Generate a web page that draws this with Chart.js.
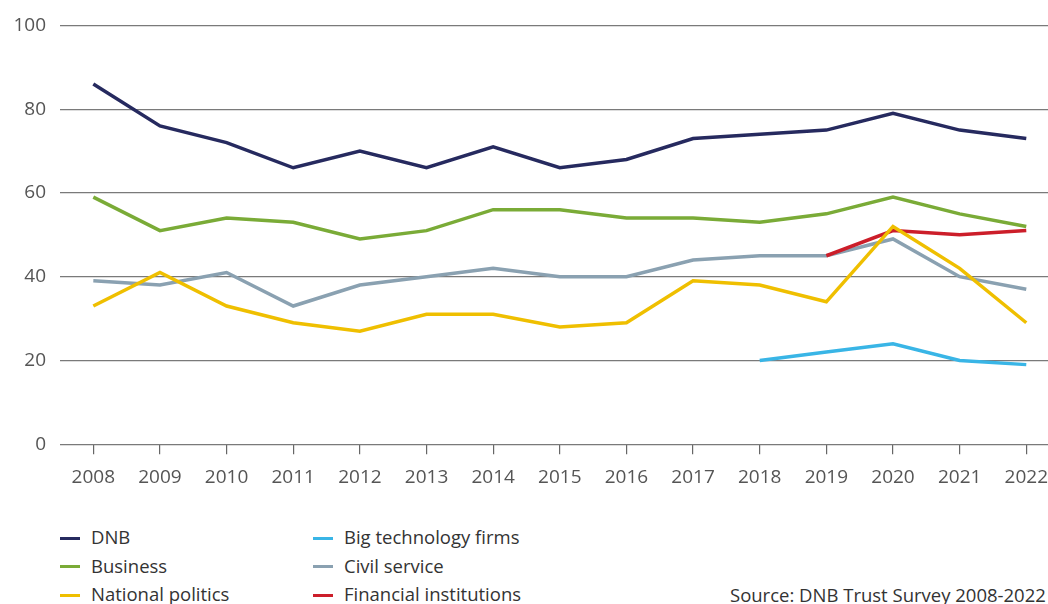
<!DOCTYPE html>
<html>
<head>
<meta charset="utf-8">
<script src="https://cdn.jsdelivr.net/npm/chart.js@4"></script>
<style>
  html, body { margin: 0; padding: 0; background: #fff; overflow: hidden; width: 1048px; height: 604px; }
  body { position: relative; font-family: "Open Sans", sans-serif; color: #333; }
  #wrap { position: absolute; left: 0; top: 0; width: 1060px; height: 501px; }
  .legend { position: absolute; top: 524px; font-size: 18.5px; }
  .legend div { height: 28.5px; line-height: 26px; white-space: nowrap; }
  .legend span.sw { display: inline-block; width: 20px; height: 3px; margin-right: 11px; vertical-align: middle; position: relative; top: -1px; }
  #source { position: absolute; left: 730px; top: 582px; font-size: 18.5px; white-space: nowrap; }
</style>
</head>
<body>
<div id="wrap"><canvas id="trustChart"></canvas></div>
<div class="legend" id="legCol1" style="left:60px"></div>
<div class="legend" id="legCol2" style="left:313px"></div>
<div id="source">Source: DNB Trust Survey 2008-2022</div>

<script>
const years = ['2008','2009','2010','2011','2012','2013','2014','2015','2016','2017','2018','2019','2020','2021','2022'];

const dnb        = [86, 76, 72, 66, 70, 66, 71, 66, 68, 73, 74, 75, 79, 75, 73];
const business   = [59, 51, 54, 53, 49, 51, 56, 56, 54, 54, 53, 55, 59, 55, 52];
const natPolitics= [33, 41, 33, 29, 27, 31, 31, 28, 29, 39, 38, 34, 52, 42, 29];
const bigTech    = [null, null, null, null, null, null, null, null, null, null, 20, 22, 24, 20, 19];
const civil      = [39, 38, 41, 33, 38, 40, 42, 40, 40, 44, 45, 45, 49, 40, 37];
const finInst    = [null, null, null, null, null, null, null, null, null, null, null, 45, 51, 50, 51];

const yTicks = [0, 20, 40, 60, 80, 100];

const series = [
  { label: 'DNB', data: dnb, color: '#262a5f', order: 6, col: 1 },
  { label: 'Business', data: business, color: '#7aab37', order: 5, col: 1 },
  { label: 'National politics', data: natPolitics, color: '#efbf00', order: 1, col: 1 },
  { label: 'Big technology firms', data: bigTech, color: '#39b5e6', order: 4, col: 2 },
  { label: 'Civil service', data: civil, color: '#8aa1b1', order: 3, col: 2 },
  { label: 'Financial institutions', data: finInst, color: '#cc1e2a', order: 2, col: 2 }
];

// legend built by hand, two columns
series.forEach(s => {
  const row = document.createElement('div');
  row.innerHTML = `<span class="sw" style="background:${s.color}"></span>${s.label}`;
  document.getElementById('legCol' + s.col).appendChild(row);
});

const ctx = document.getElementById('trustChart').getContext('2d');
new Chart(ctx, {
  type: 'line',
  data: {
    labels: years,
    datasets: series.map(s => ({
      label: s.label,
      data: s.data,
      borderColor: s.color,
      backgroundColor: s.color,
      borderWidth: 3.5,
      pointRadius: 0,
      tension: 0,
      fill: false,
      order: s.order,
      borderCapStyle: 'butt',
      borderJoinStyle: 'miter'
    }))
  },
  options: {
    responsive: true,
    maintainAspectRatio: false,
    animation: false,
    layout: { padding: { top: 25, right: 0, bottom: 0, left: 0 } },
    plugins: { legend: { display: false }, tooltip: { enabled: false } },
    scales: {
      x: {
        offset: true,
        border: { display: false },
        grid: { drawOnChartArea: false, drawTicks: true, tickLength: 10, color: '#666', lineWidth: 1.2, offset: false },
        ticks: { color: '#555', font: { family: 'Open Sans', size: 19 }, padding: 12, maxRotation: 0, autoSkip: false }
      },
      y: {
        min: 0,
        max: 100,
        afterFit: scale => { scale.width = 60; },
        afterBuildTicks: scale => { scale.ticks = yTicks.map(v => ({ value: v })); },
        border: { display: false },
        grid: { drawTicks: false, color: '#7a7a7a', lineWidth: 1.2 },
        ticks: { color: '#555', font: { family: 'Open Sans', size: 19 }, padding: 14 }
      }
    }
  }
});
</script>
</body>
</html>
